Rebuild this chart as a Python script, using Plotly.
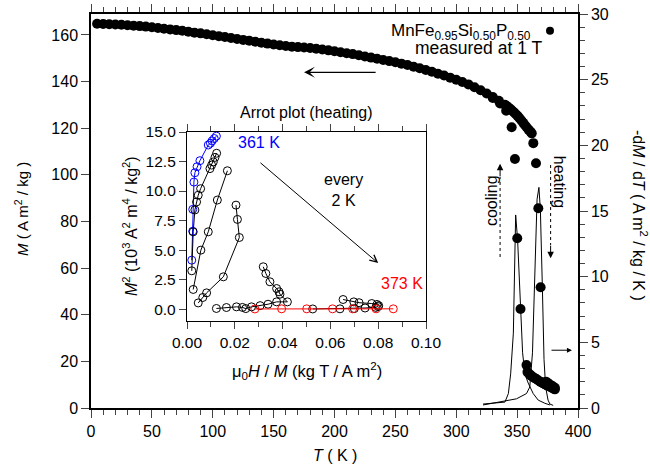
import plotly.graph_objects as go

# ---------------- data ----------------
# M(T), heating branch (A m^2/kg)
T_heat = [5, 10, 15, 20, 25, 30, 35, 40, 45, 50, 55, 60, 65, 70, 75, 80, 85, 90, 95, 100,
          105, 110, 115, 120, 125, 130, 135, 140, 145, 150, 155, 160, 165, 170, 175, 180,
          185, 190, 195, 200, 205, 210, 215, 220, 225, 230, 235, 240, 245, 250, 255, 260,
          265, 270, 275, 280, 285, 290, 295, 300, 305, 310, 315, 320, 325, 330, 335,
          340, 341.5, 343, 344.5, 346, 347.5, 349, 350.5, 352, 353.5, 355, 356.5, 358,
          359.5, 361, 362,
          363.3, 365.5, 367.4, 369.3, 373.7, 375, 376.5, 378, 379.5, 381]
M_heat = [164.8, 164.7, 164.6, 164.5, 164.4, 164.2, 164.0, 163.8, 163.6, 163.3, 163.0, 162.7,
          162.4, 162.1, 161.8, 161.4, 161.0, 160.7, 160.3, 159.9, 159.5, 159.1, 158.7, 158.3,
          157.9, 157.5, 157.1, 156.7, 156.3, 155.9, 155.6, 155.3, 155.0, 154.8, 154.6, 154.4,
          154.1, 153.8, 153.4, 153.0, 152.6, 152.2, 151.8, 151.3, 150.8, 150.3, 149.8, 149.3,
          148.8, 148.3, 147.7, 147.1, 146.4, 145.7, 145.0, 144.2, 143.4, 142.6, 141.7, 140.8,
          139.8, 138.8, 137.6, 136.3, 134.9, 133.4, 131.8,
          130.1, 129.5, 128.9, 128.2, 127.5, 126.8, 126.0, 125.2, 124.3, 123.3, 122.3, 121.3, 120.3,
          119.3, 118.5, 117.8,
          113.6, 105.0, 85.7, 51.8, 11.3, 10.8, 10.2, 9.7, 9.2, 8.7]
# M(T), cooling branch
T_cool = [330, 336, 341, 345.5, 348.2, 350.1, 352.8, 357.7,
          358.5, 360, 361.5, 363, 364.5, 366, 367.5, 369, 370.5, 372, 373.5, 375, 376.5,
          378, 379.5, 381]
M_cool = [133.0, 130.6, 127.5, 120.4, 106.8, 72.8, 42.5, 18.4,
          15.4, 14.6, 13.9, 13.3, 12.8, 12.3, 11.8, 11.3, 10.8, 10.4, 10.0, 9.6, 9.2,
          8.8, 8.4, 8.0]

# -dM/dT (A m^2/kg/K)
T_dc = [322, 330, 336, 340, 342.8, 344.7, 346.9, 348.8, 350.4, 352.3, 354.5, 356.4,
        359.1, 363.2, 367.3, 372.8, 376.9]
dMdT_cool = [0.3, 0.35, 0.4, 0.45, 1.1, 2.6, 5.7, 14.7, 12.8, 8.2, 4.2, 2.6,
             1.9, 1.1, 0.6, 0.36, 0.23]
T_dh = [322, 336, 349.5, 357.7, 360.4, 362.6, 364.5, 366.4, 367.9, 369.1, 370.7, 372.1,
        373.4, 375.4, 376.9, 379.6]
dMdT_heat = [0.23, 0.45, 0.7, 1.1, 1.6, 4.2, 9.3, 15.9, 16.8, 15.1, 9.3, 3.7,
             1.6, 0.6, 0.3, 0.2]

# Arrott plot (inset): x = mu0 H / M, y = M^2 (10^3 A^2 m^4/kg^2)
arrott = {
    "361 K": ([0.0020, 0.0024, 0.0024, 0.0029, 0.0033, 0.0042, 0.0054, 0.0089, 0.0098, 0.0105, 0.0114, 0.0123],
              [4.15, 6.6, 8.45, 10.76, 11.55, 12.06, 12.57, 13.9, 14.05, 14.25, 14.45, 14.65], "blue"),
    "363 K": ([0.0020, 0.0026, 0.0033, 0.0040, 0.0047, 0.0057, 0.0096, 0.0103, 0.0110, 0.0117, 0.0124],
              [3.25, 6.55, 8.4, 9.08, 9.65, 10.2, 11.9, 12.2, 12.47, 12.85, 13.2], "black"),
    "365 K": ([0.0026, 0.0058, 0.0089, 0.0127, 0.0169],
              [1.67, 5.0, 6.55, 9.24, 11.72], "black"),
    "367 K": ([0.0047, 0.0066, 0.0082, 0.0152, 0.0219, 0.0211, 0.0205],
              [0.53, 0.99, 1.38, 2.74, 6.07, 7.6, 8.81], "black"),
    "369 K": ([0.0123, 0.0165, 0.0207, 0.0232, 0.0246, 0.0270, 0.0306, 0.0339, 0.0375, 0.0420,
               0.0389, 0.0385, 0.0375, 0.0347, 0.0330, 0.0319],
              [0.06, 0.14, 0.2, 0.15, 0.05, 0.2, 0.3, 0.42, 0.62, 0.62,
               1.27, 1.47, 1.75, 2.32, 3.02, 3.59], "black"),
    "371 K": ([0.0526, 0.0640, 0.0700, 0.0745, 0.0790, 0.0800, 0.0802, 0.0795, 0.0773, 0.0720, 0.0698, 0.0653],
              [0.02, 0.03, 0.05, 0.1, 0.15, 0.22, 0.3, 0.4, 0.48, 0.55, 0.62, 0.82], "black"),
    "373 K": ([0.0284, 0.0396, 0.0501, 0.0609, 0.0693, 0.0791, 0.0863],
              [0.02, 0.03, 0.03, 0.03, 0.03, 0.03, 0.03], "red"),
}

FONT = "Liberation Sans, Arial, Helvetica, sans-serif"
W, H = 650, 470

fig = go.Figure()

# -dM/dT curves on right axis
fig.add_trace(go.Scatter(x=T_dc, y=dMdT_cool, mode="lines", line=dict(color="black", width=1),
                         xaxis="x", yaxis="y2", showlegend=False))
fig.add_trace(go.Scatter(x=T_dh, y=dMdT_heat, mode="lines", line=dict(color="black", width=1),
                         xaxis="x", yaxis="y2", showlegend=False))
# M(T)
fig.add_trace(go.Scatter(x=T_heat, y=M_heat, mode="markers",
                         marker=dict(color="black", size=10), xaxis="x", yaxis="y", showlegend=False))
fig.add_trace(go.Scatter(x=T_cool, y=M_cool, mode="markers",
                         marker=dict(color="black", size=10), xaxis="x", yaxis="y", showlegend=False))

# Arrott inset
for name, (xs, ys, col) in arrott.items():
    fig.add_trace(go.Scatter(x=xs, y=ys, mode="lines+markers",
                             line=dict(color=col, width=1),
                             marker=dict(symbol="circle-open", size=8, color=col, line=dict(width=1)),
                             xaxis="x3", yaxis="y3", showlegend=False, name=name))

tickfont = dict(family=FONT, size=16, color="black")
itickfont = dict(family=FONT, size=15.5, color="black")

fig.update_layout(
    width=W, height=H,
    margin=dict(l=0, r=0, t=0, b=0, autoexpand=False),
    paper_bgcolor="white", plot_bgcolor="white",
    font=dict(family=FONT, size=15, color="black"),
    xaxis=dict(domain=[91/W, 578/W], range=[0, 400], anchor="y", automargin=False,
               dtick=50, ticks="outside", ticklen=8, tickwidth=1.3,
               minor=dict(dtick=10, ticks="outside", ticklen=5, tickwidth=1.3),
               showline=True, linewidth=1.5, linecolor="black", mirror="ticks",
               showgrid=False, zeroline=False, tickfont=tickfont),
    yaxis=dict(domain=[1-408/H, 1-14/H], range=[0, 169], anchor="x", automargin=False,
               tick0=0, dtick=20, ticks="outside", ticklen=8, tickwidth=1.3,
               showline=True, linewidth=1.5, linecolor="black",
               showgrid=False, zeroline=False, tickfont=tickfont),
    yaxis2=dict(overlaying="y", side="right", anchor="x", range=[0, 30], automargin=False,
                tick0=0, dtick=5, ticks="outside", ticklen=8, tickwidth=1.3,
                minor=dict(dtick=1, ticks="outside", ticklen=5, tickwidth=1.3),
                showline=True, linewidth=1.5, linecolor="black",
                showgrid=False, zeroline=False, tickfont=tickfont),
    xaxis3=dict(domain=[187/W, 426/W], range=[0, 0.1], anchor="y3", automargin=False,
                tick0=0, dtick=0.02, tickformat=".2f", ticks="outside", ticklen=7, tickwidth=1.2,
                minor=dict(dtick=0.01, ticks="outside", ticklen=5, tickwidth=1.2),
                showline=True, linewidth=1.3, linecolor="black", mirror="ticks",
                showgrid=False, zeroline=False, tickfont=itickfont),
    yaxis3=dict(domain=[1-321/H, 1-132/H], range=[-1, 15], anchor="x3", automargin=False,
                tick0=0, dtick=2.5, tickformat=".1f", ticks="outside", ticklen=7, tickwidth=1.2,
                showline=True, linewidth=1.3, linecolor="black", mirror=True,
                showgrid=False, zeroline=False, tickfont=itickfont),
)


def ptext(text, px, py, size, angle=0, xanchor="center", color="black"):
    return dict(text=text, xref="paper", yref="paper", x=px/W, y=1-py/H,
                xanchor=xanchor, yanchor="middle", showarrow=False, textangle=angle,
                font=dict(size=size, color=color))


ann = []
# axis titles
ann.append(ptext("<i>T</i> ( K )", 334.5, 455, 16))
ann.append(ptext("<i>M</i> ( A m<sup>2</sup> / kg )", 21, 209, 15, angle=-90))
ann.append(ptext("-d<i>M</i> / d<i>T</i> ( A m<sup>2</sup> / kg / K )", 640, 215, 16, angle=90))
ann.append(ptext("μ<sub>0</sub><i>H</i> / <i>M</i> (kg T / A m<sup>2</sup>)", 307, 371, 16.5))
ann.append(ptext("<i>M</i><sup>2</sup> (10<sup>3</sup> A<sup>2</sup> m<sup>4</sup> / kg<sup>2</sup>)",
                 130, 226, 16, angle=-90))
ann.append(ptext("Arrot plot (heating)", 306, 113, 16))
# legend-like text
ann.append(ptext("MnFe<sub>0.95</sub>Si<sub>0.50</sub>P<sub>0.50</sub>", 533, 32, 17, xanchor="right"))
ann.append(ptext("measured at 1 T", 544, 48, 17.5, xanchor="right"))
# cooling / heating labels
ann.append(dict(text="cooling", x=329, y=15.8, xref="x", yref="y2", showarrow=False,
                textangle=-90, font=dict(size=16)))
ann.append(dict(text="heating", x=385.5, y=17.2, xref="x", yref="y2", showarrow=False,
                textangle=90, font=dict(size=16)))
# arrowheads for dotted arrows
ann.append(dict(x=336, y=18.6, xref="x", yref="y2", ax=0, ay=14, axref="pixel", ayref="pixel",
                showarrow=True, arrowhead=2, arrowsize=1.3, arrowwidth=1, arrowcolor="black", text=""))
ann.append(dict(x=377.5, y=11.4, xref="x", yref="y2", ax=0, ay=-14, axref="pixel", ayref="pixel",
                showarrow=True, arrowhead=2, arrowsize=1.3, arrowwidth=1, arrowcolor="black", text=""))
# arrow pointing to the right axis
ann.append(dict(x=395, y=4.4, xref="x", yref="y2", ax=377, ay=4.4, axref="x", ayref="y2",
                showarrow=True, arrowhead=2, arrowsize=1, arrowwidth=1, arrowcolor="black", text=""))
# arrow pointing to the left axis
ann.append(dict(x=175, y=144, xref="x", yref="y", ax=235, ay=144, axref="x", ayref="y",
                showarrow=True, arrowhead=3, arrowsize=1.4, arrowwidth=1.3, arrowcolor="black", text=""))
# inset texts
ann.append(dict(text="361 K", x=0.0205, y=14.15, xref="x3", yref="y3", xanchor="left", yanchor="middle",
                showarrow=False, font=dict(size=16, color="blue")))
ann.append(dict(text="373 K", x=0.0803, y=2.2, xref="x3", yref="y3", xanchor="left", yanchor="middle",
                showarrow=False, font=dict(size=16, color="red")))
ann.append(dict(text="every<br>2 K", x=0.0653, y=10.1, xref="x3", yref="y3",
                showarrow=False, font=dict(size=16)))
ann.append(dict(x=0.0800, y=3.9, xref="x3", yref="y3", ax=0.0301, ay=12.5, axref="x3", ayref="y3",
                showarrow=True, arrowhead=5, arrowsize=1.4, arrowwidth=1, arrowcolor="black", text=""))
fig.update_layout(annotations=ann)

shapes = []
# dotted arrow shafts
shapes.append(dict(type="line", x0=336, x1=336, y0=11.5, y1=17.6, xref="x", yref="y2",
                   line=dict(color="black", width=1, dash="dot")))
shapes.append(dict(type="line", x0=377.5, x1=377.5, y0=18.5, y1=12.4, xref="x", yref="y2",
                   line=dict(color="black", width=1, dash="dot")))
# legend key dot
shapes.append(dict(type="circle", xref="paper", yref="paper", xsizemode="pixel", ysizemode="pixel",
                   xanchor=550/W, yanchor=1-30.7/H, x0=-4, x1=4, y0=-4, y1=4,
                   fillcolor="black", line=dict(color="black", width=0)))
fig.update_layout(shapes=shapes)

fig.write_html("out.html")
